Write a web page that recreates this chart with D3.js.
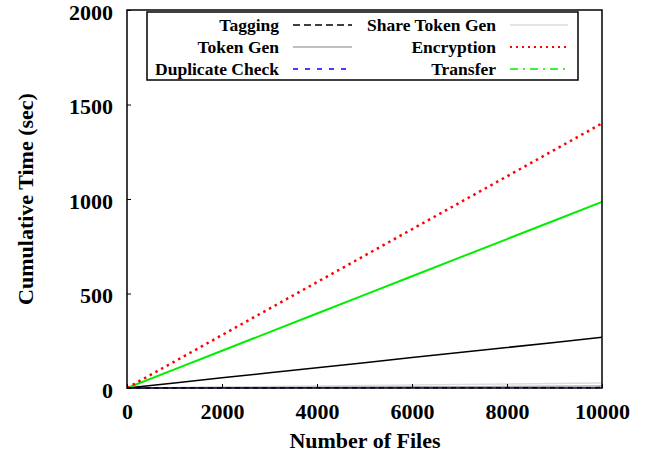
<!DOCTYPE html>
<html><head><meta charset="utf-8">
<script src="https://cdn.jsdelivr.net/npm/d3@7"></script>
<style>body{margin:0;background:#fff}svg text{font-family:"Liberation Serif","Times New Roman",serif;font-weight:bold}</style>
</head><body><svg id="c" width="652" height="462"></svg>
<script>
const files = [0,1000,2000,3000,4000,5000,6000,7000,8000,9000,10000];
const tagging = [0,26.8,53.6,80.4,107.2,134,160.8,187.6,214.4,241.2,268];
const shareTokenGen = [0,2.6,5.2,7.8,10.4,13,15.6,18.2,20.8,23.4,26];
const tokenGen = [0,1,2,3,4,5,6,7,8,9,10];
const duplicateCheck = [0,0.2,0.4,0.6,0.8,1,1.2,1.4,1.6,1.8,2];
const encryption = [0,140,280,420,560,700,840,980,1120,1260,1400];
const transfer = [0,98.5,197,295.5,394,492.5,591,689.5,788,886.5,985];
const xTicks = [0,2000,4000,6000,8000,10000];
const yTicks = [0,500,1000,1500,2000];

const series = [
 {name:"Tagging", v:tagging, color:"#000", w:1.5, dash:null, legDash:"7,4", col:0,row:0},
 {name:"Token Gen", v:tokenGen, color:"#aaa", w:1.5, dash:null, legDash:null, col:0,row:1},
 {name:"Duplicate Check", v:duplicateCheck, color:"#0000ff", w:1.5, dash:"5,4", legDash:"5,7", col:0,row:2},
 {name:"Share Token Gen", v:shareTokenGen, color:"#ddd", w:1.5, dash:null, legDash:null, col:1,row:0},
 {name:"Encryption", v:encryption, color:"#ff0000", w:2.5, dash:"2.5,4", legDash:"2,4", col:1,row:1},
 {name:"Transfer", v:transfer, color:"#00ee00", w:2, dash:null, legDash:"8,5,2,5", col:1,row:2}
];

const svg = d3.select("#c");
const L=127,R=602,T=10,B=388;
const x = d3.scaleLinear().domain([0,10000]).range([L,R]);
const y = d3.scaleLinear().domain([0,2000]).range([B,T]);

const line = d3.line().x((d,i)=>x(files[i])).y(d=>y(d));
const order = [3,1,0,5,4,2];
order.forEach(k=>{const s=series[k];
 svg.append("path").attr("d",line(s.v)).attr("fill","none").attr("stroke",s.color)
  .attr("stroke-width",s.w).attr("stroke-dasharray",s.dash);
});

const xa = svg.append("g").attr("transform",`translate(0,${B})`)
 .call(d3.axisBottom(x).tickValues(xTicks).tickSize(-4).tickPadding(12).tickFormat(d3.format("d")));
const ya = svg.append("g").attr("transform",`translate(${L},0)`)
 .call(d3.axisLeft(y).tickValues(yTicks).tickSize(-4).tickPadding(14).tickFormat(d3.format("d")));
[xa,ya].forEach(a=>{a.select(".domain").remove();a.selectAll("text").attr("font-size",22).attr("fill","#000")
 .style("font-family","Liberation Serif").style("font-weight","bold");a.selectAll("line").attr("stroke","#000")});
xa.selectAll("text").attr("dy","0.85em");
ya.selectAll("text").attr("dy","0.42em");
svg.append("rect").attr("x",L).attr("y",T).attr("width",R-L).attr("height",B-T)
 .attr("fill","none").attr("stroke","#000").attr("stroke-width",1.5);

svg.append("text").attr("x",365).attr("y",448).attr("text-anchor","middle").attr("font-size",22).text("Number of Files");
svg.append("text").attr("transform",`translate(33,${(T+B)/2}) rotate(-90)`).attr("text-anchor","middle").attr("font-size",22).text("Cumulative Time (sec)");

svg.append("rect").attr("x",147).attr("y",12).attr("width",431).attr("height",68).attr("fill","#fff").attr("stroke","#000").attr("stroke-width",1.5);
const colX=[{tx:279,l1:293,l2:352},{tx:496,l1:510,l2:568}];
series.forEach(s=>{const c=colX[s.col];const yy=25+s.row*22;
 svg.append("text").attr("x",c.tx).attr("y",yy).attr("dy","0.35em").attr("text-anchor","end").attr("font-size",17.5).text(s.name);
 svg.append("line").attr("x1",c.l1).attr("x2",c.l2).attr("y1",yy).attr("y2",yy).attr("stroke",s.color)
  .attr("stroke-width",s.name==="Encryption"?2:1.5).attr("stroke-dasharray",s.legDash);
});
</script></body></html>
